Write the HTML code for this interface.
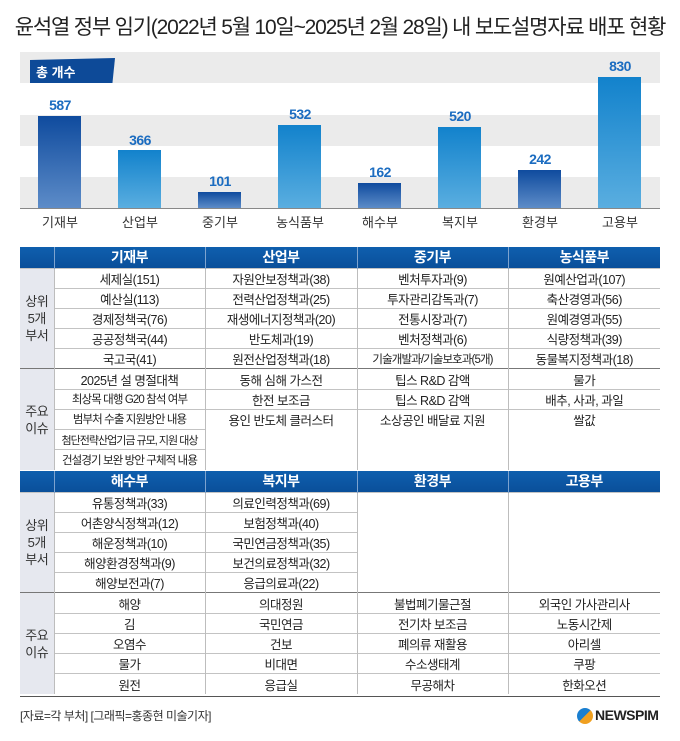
<!DOCTYPE html>
<html><head><meta charset="utf-8"><style>
*{margin:0;padding:0;box-sizing:border-box}
body{width:680px;height:741px;background:#fff;font-family:"Liberation Sans","Noto Sans CJK KR",sans-serif;position:relative;overflow:hidden;color:#222}
.abs{position:absolute}
.title{left:0;width:680px;top:11px;text-align:center;font-size:21px;letter-spacing:-1.2px;color:#222}
.band{left:20px;width:640px;height:31px;background:#ebebeb}
.bar{position:absolute;width:43px;bottom:0}
.val{position:absolute;width:80px;text-align:center;font-size:14px;font-weight:bold;color:#1b6cc0;letter-spacing:-0.5px}
.lab{position:absolute;width:80px;text-align:center;font-size:13px;top:212px;color:#333}
table{position:absolute;left:20px;width:640px;border-collapse:collapse;table-layout:fixed;font-size:12.5px;letter-spacing:-0.5px}
td,th{text-align:center;padding:0;white-space:nowrap;overflow:hidden}
th{background:linear-gradient(#0f5fae,#0a4f9a);color:#fff;font-size:14px;height:21px;border-left:1px solid #7da3cf}
th:first-child{border-left:none}
td{border-top:1px solid #c3c3c3;border-left:1px solid #bdbdbd;height:20.2px}
td.lh{background:#e6e8ef;border-left:none;font-size:13px;line-height:17px;color:#333}
tr.sec td{border-top:1px solid #777}
td.sm{font-size:11.5px;letter-spacing:-0.9px}
</style></head><body>
<div class="abs title">윤석열 정부 임기(2022년 5월 10일~2025년 2월 28일) 내 보도설명자료 배포 현황</div>
<div class="abs band" style="top:52px"></div>
<div class="abs band" style="top:115px"></div>
<div class="abs band" style="top:177px"></div>
<div class="abs" style="left:30px;top:58px;width:85px;height:25px;background:#0d4a98;clip-path:polygon(0 8%,100% 0,97% 100%,0 100%);box-shadow:0 3px 4px rgba(0,0,0,.3)"></div>
<div class="abs" style="left:36px;top:62px;color:#fff;font-size:13px;font-weight:bold">총 개수</div>
<div class="abs" style="left:20px;top:0;width:640px;height:208px">
 <div class="bar" style="left:18px;height:92px;background:linear-gradient(#0f4b9e,#5d8cc8)"></div>
 <div class="bar" style="left:98px;height:58px;background:linear-gradient(#1282cc,#5aaee0)"></div>
 <div class="bar" style="left:178px;height:16px;background:linear-gradient(#0f4b9e,#5d8cc8)"></div>
 <div class="bar" style="left:258px;height:83px;background:linear-gradient(#1282cc,#5aaee0)"></div>
 <div class="bar" style="left:338px;height:25px;background:linear-gradient(#0f4b9e,#5d8cc8)"></div>
 <div class="bar" style="left:418px;height:81px;background:linear-gradient(#1282cc,#5aaee0)"></div>
 <div class="bar" style="left:498px;height:38px;background:linear-gradient(#0f4b9e,#5d8cc8)"></div>
 <div class="bar" style="left:578px;height:131px;background:linear-gradient(#1282cc,#5aaee0)"></div>
 <div class="val" style="left:0;top:97px">587</div>
 <div class="val" style="left:80px;top:132px">366</div>
 <div class="val" style="left:160px;top:173px">101</div>
 <div class="val" style="left:240px;top:106px">532</div>
 <div class="val" style="left:320px;top:164px">162</div>
 <div class="val" style="left:400px;top:108px">520</div>
 <div class="val" style="left:480px;top:151px">242</div>
 <div class="val" style="left:560px;top:58px">830</div>
</div>
<div class="abs" style="left:20px;top:208px;width:640px;height:1px;background:#888"></div>
<div class="abs" style="left:20px;top:0">
 <div class="lab" style="left:0">기재부</div><div class="lab" style="left:80px">산업부</div><div class="lab" style="left:160px">중기부</div><div class="lab" style="left:240px">농식품부</div><div class="lab" style="left:320px">해수부</div><div class="lab" style="left:400px">복지부</div><div class="lab" style="left:480px">환경부</div><div class="lab" style="left:560px">고용부</div>
</div>

<table style="top:247px">
<colgroup><col style="width:34px"><col style="width:151px"><col style="width:152px"><col style="width:151px"><col style="width:152px"></colgroup>
<tr><th></th><th>기재부</th><th>산업부</th><th>중기부</th><th>농식품부</th></tr>
<tr><td class="lh" rowspan="5">상위<br>5개<br>부서</td><td>세제실(151)</td><td>자원안보정책과(38)</td><td>벤처투자과(9)</td><td>원예산업과(107)</td></tr>
<tr><td>예산실(113)</td><td>전력산업정책과(25)</td><td>투자관리감독과(7)</td><td>축산경영과(56)</td></tr>
<tr><td>경제정책국(76)</td><td>재생에너지정책과(20)</td><td>전통시장과(7)</td><td>원예경영과(55)</td></tr>
<tr><td>공공정책국(44)</td><td>반도체과(19)</td><td>벤처정책과(6)</td><td>식량정책과(39)</td></tr>
<tr><td>국고국(41)</td><td>원전산업정책과(18)</td><td class="sm">기술개발과/기술보호과(5개)</td><td>동물복지정책과(18)</td></tr>
<tr class="sec"><td class="lh" rowspan="5">주요<br>이슈</td><td>2025년 설 명절대책</td><td>동해 심해 가스전</td><td>팁스 R&amp;D 감액</td><td>물가</td></tr>
<tr><td class="sm">최상목 대행 G20 참석 여부</td><td>한전 보조금</td><td>팁스 R&amp;D 감액</td><td>배추, 사과, 과일</td></tr>
<tr><td class="sm">범부처 수출 지원방안 내용</td><td>용인 반도체 클러스터</td><td>소상공인 배달료 지원</td><td>쌀값</td></tr>
<tr><td class="sm" style="font-size:11px;letter-spacing:-1px">첨단전략산업기금 규모, 지원 대상</td><td style="border-top:none"></td><td style="border-top:none"></td><td style="border-top:none"></td></tr>
<tr><td class="sm">건설경기 보완 방안 구체적 내용</td><td style="border-top:none"></td><td style="border-top:none"></td><td style="border-top:none"></td></tr>
</table>

<table style="top:471px">
<colgroup><col style="width:34px"><col style="width:151px"><col style="width:152px"><col style="width:151px"><col style="width:152px"></colgroup>
<tr><th></th><th>해수부</th><th>복지부</th><th>환경부</th><th>고용부</th></tr>
<tr><td class="lh" rowspan="5">상위<br>5개<br>부서</td><td>유통정책과(33)</td><td>의료인력정책과(69)</td><td rowspan="5"></td><td rowspan="5"></td></tr>
<tr><td>어촌양식정책과(12)</td><td>보험정책과(40)</td></tr>
<tr><td>해운정책과(10)</td><td>국민연금정책과(35)</td></tr>
<tr><td>해양환경정책과(9)</td><td>보건의료정책과(32)</td></tr>
<tr><td>해양보전과(7)</td><td>응급의료과(22)</td></tr>
<tr class="sec"><td class="lh" rowspan="5">주요<br>이슈</td><td>해양</td><td>의대정원</td><td>불법폐기물근절</td><td>외국인 가사관리사</td></tr>
<tr><td>김</td><td>국민연금</td><td>전기차 보조금</td><td>노동시간제</td></tr>
<tr><td>오염수</td><td>건보</td><td>폐의류 재활용</td><td>아리셀</td></tr>
<tr><td>물가</td><td>비대면</td><td>수소생태계</td><td>쿠팡</td></tr>
<tr><td>원전</td><td>응급실</td><td>무공해차</td><td>한화오션</td></tr>
</table>
<div class="abs" style="left:20px;top:696px;width:640px;height:1px;background:#555"></div>
<div class="abs" style="left:20px;top:707px;font-size:12px;color:#333;letter-spacing:-0.5px">[자료=각 부처] [그래픽=홍종현 미술기자]</div>
<div class="abs" style="left:577px;top:708px;width:16px;height:16px;border-radius:50%;background:linear-gradient(135deg,#1a7fd0 50%,#f0a020 50%)"></div>
<div class="abs" style="left:595px;top:707px;font-size:14px;font-weight:bold;color:#222;letter-spacing:-0.5px">NEWSPIM</div>
</body></html>
